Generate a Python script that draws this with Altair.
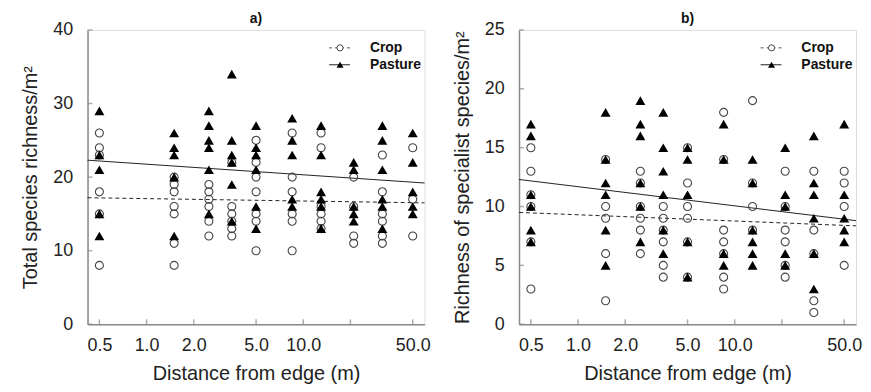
import altair as alt
import pandas as pd

FONT = "Liberation Sans"
GRAY = "#8a8a8a"

DIST = [0.5, 1.5, 2.5, 3.5, 5, 8.5, 13, 21, 32, 50]

A_CROP = [
    [26, 24, 23, 18, 15, 8],
    [20, 19, 18, 16, 15, 11, 8],
    [19, 18, 17, 16, 14, 12],
    [22, 16, 15, 14, 13, 12],
    [25, 22, 20, 18, 15, 14, 10],
    [26, 20, 18, 15, 14, 10],
    [26, 24, 16, 15, 14, 13],
    [20, 16, 12, 11],
    [23, 18, 15, 14, 12, 11],
    [24, 17, 12],
]
A_PAST = [
    [29, 23, 21, 15, 12],
    [26, 24, 23, 20, 12],
    [29, 27, 25, 24, 21, 15],
    [34, 25, 23, 22, 19, 14],
    [27, 24, 23, 21, 16, 13],
    [28, 25, 23, 17, 16],
    [27, 23, 18, 17, 16, 13],
    [22, 21, 16, 15, 14],
    [27, 25, 21, 17, 16, 13],
    [26, 22, 18, 16, 15],
]
B_CROP = [
    [15, 13, 11, 10, 7, 3],
    [14, 10, 9, 6, 2],
    [13, 12, 10, 9, 8, 6],
    [10, 9, 8, 7, 5, 4],
    [15, 12, 10, 9, 7, 4],
    [18, 14, 8, 7, 6, 4, 3],
    [19, 12, 10, 8],
    [13, 10, 8, 7, 5, 4],
    [13, 8, 6, 2, 1],
    [13, 12, 10, 5],
]
B_PAST = [
    [17, 16, 11, 10, 8, 7],
    [18, 14, 12, 11, 8, 5],
    [19, 17, 16, 12, 10, 7],
    [18, 15, 13, 11, 8, 6],
    [15, 14, 11, 7, 4],
    [17, 14, 6, 5],
    [14, 12, 8, 7, 6, 5],
    [15, 11, 10, 6, 5],
    [16, 12, 11, 9, 6, 3],
    [17, 11, 9, 8, 7],
]

FIT_X = [0.42, 59.5]
A_FIT_CROP = [17.2, 16.5]
A_FIT_PAST = [22.3, 19.2]
B_FIT_CROP = [9.5, 8.36]
B_FIT_PAST = [12.3, 8.8]

X_TICKS = [0.5, 1, 2, 5, 10, 20, 50]
X_LABELS = [0.5, 1, 2, 5, 10, 50]
A_YTICKS = [0, 10, 20, 30, 40]
B_YTICKS = [0, 5, 10, 15, 20, 25]
LEGEND = ["Crop", "Pasture"]

W, H = 339, 296


def panel(crop, past, fit_c, fit_p, ymax, yticks, ytitle, title):
    pc = pd.DataFrame([(d, v) for d, vs in zip(DIST, crop) for v in vs], columns=["d", "v"])
    pp = pd.DataFrame([(d, v) for d, vs in zip(DIST, past) for v in vs], columns=["d", "v"])
    fc = pd.DataFrame({"d": FIT_X, "v": fit_c})
    fp = pd.DataFrame({"d": FIT_X, "v": fit_p})
    xt = pd.DataFrame({"d": X_TICKS})
    yt = pd.DataFrame({"v": yticks})
    one = pd.DataFrame({"k": [0]})

    xs = alt.Scale(type="log", domain=FIT_X, nice=False)
    ys = alt.Scale(domain=[0, ymax], nice=False, zero=True)
    xaxis = alt.Axis(values=X_LABELS, format=".1f", ticks=False, grid=False,
                     domainColor=GRAY, domainWidth=1.5, labelFont=FONT, labelFontSize=18,
                     labelColor="#222", labelPadding=12, labelOverlap=False, labelFlush=False,
                     title="Distance from edge (m)", titleFont=FONT, titleFontSize=20,
                     titleFontWeight="normal", titleColor="#222", titlePadding=10)
    yaxis = alt.Axis(values=yticks, ticks=False, grid=False,
                     domainColor=GRAY, domainWidth=1.5, labelFont=FONT, labelFontSize=18,
                     labelColor="#222", labelPadding=15, labelOverlap=False,
                     title=ytitle, titleFont=FONT, titleFontSize=20,
                     titleFontWeight="normal", titleColor="#222", titlePadding=12)
    X = alt.X("d:Q", scale=xs, axis=xaxis)
    Y = alt.Y("v:Q", scale=ys, axis=yaxis)

    line_c = alt.Chart(fc).mark_line(color="#222", strokeWidth=1, strokeDash=[4, 3]).encode(x=X, y=Y)
    line_p = alt.Chart(fp).mark_line(color="#222", strokeWidth=1).encode(x=X, y=Y)
    circ = alt.Chart(pc).mark_point(shape="circle", filled=False, stroke="#444",
                                    strokeWidth=1.1, size=65, opacity=1).encode(x=X, y=Y)
    tri = alt.Chart(pp).mark_point(shape="triangle-up", filled=True, color="black",
                                   size=100, opacity=1).encode(x=X, y=Y)
    xtick = alt.Chart(xt).mark_tick(orient="vertical", size=5, thickness=1.5, color=GRAY).encode(
        x=X, y=alt.value(H - 2.5))
    ytick = alt.Chart(yt).mark_tick(orient="horizontal", size=5, thickness=1.5, color=GRAY).encode(
        y=Y, x=alt.value(2.5))

    ly1, ly2 = 18, 35
    lg_line_c = alt.Chart(one).mark_rule(color="#555", strokeWidth=1, strokeDash=[3, 3]).encode(
        x=alt.value(243), x2=alt.value(264), y=alt.value(ly1))
    lg_line_p = alt.Chart(one).mark_rule(color="#222", strokeWidth=1).encode(
        x=alt.value(243), x2=alt.value(264), y=alt.value(ly2))
    lg_c = alt.Chart(one).mark_point(shape="circle", filled=True, fill="white", stroke="#444",
                                     strokeWidth=1, size=38, opacity=1).encode(
        x=alt.value(254), y=alt.value(ly1))
    lg_p = alt.Chart(one).mark_point(shape="triangle-up", filled=True, color="black",
                                     size=50, opacity=1).encode(
        x=alt.value(254), y=alt.value(ly2))
    lg_t1 = alt.Chart(one).mark_text(align="left", baseline="middle", font=FONT, fontSize=14,
                                     fontWeight="bold", color="#111").encode(
        x=alt.value(284), y=alt.value(ly1), text=alt.value(LEGEND[0]))
    lg_t2 = alt.Chart(one).mark_text(align="left", baseline="middle", font=FONT, fontSize=14,
                                     fontWeight="bold", color="#111").encode(
        x=alt.value(284), y=alt.value(ly2), text=alt.value(LEGEND[1]))

    return alt.layer(line_c, line_p, circ, tri, xtick, ytick,
                     lg_line_c, lg_line_p, lg_c, lg_p, lg_t1, lg_t2).properties(
        width=W, height=H,
        title=alt.TitleParams(title, font=FONT, fontSize=14, fontWeight="bold", color="#111",
                              anchor="middle", frame="group", offset=-5))


left = panel(A_CROP, A_PAST, A_FIT_CROP, A_FIT_PAST, 40, A_YTICKS,
             "Total species richness/m²", "a)")
right = panel(B_CROP, B_PAST, B_FIT_CROP, B_FIT_PAST, 25, B_YTICKS,
              "Richness of specialist species/m²", "b)")

chart = alt.hconcat(left, right, spacing=20).properties(
    padding={"left": 12, "top": 2, "right": 0, "bottom": 0}
).configure_view(stroke=None).configure(background="white")

chart.save("out.html", embed_options={"renderer": "svg", "actions": False})
